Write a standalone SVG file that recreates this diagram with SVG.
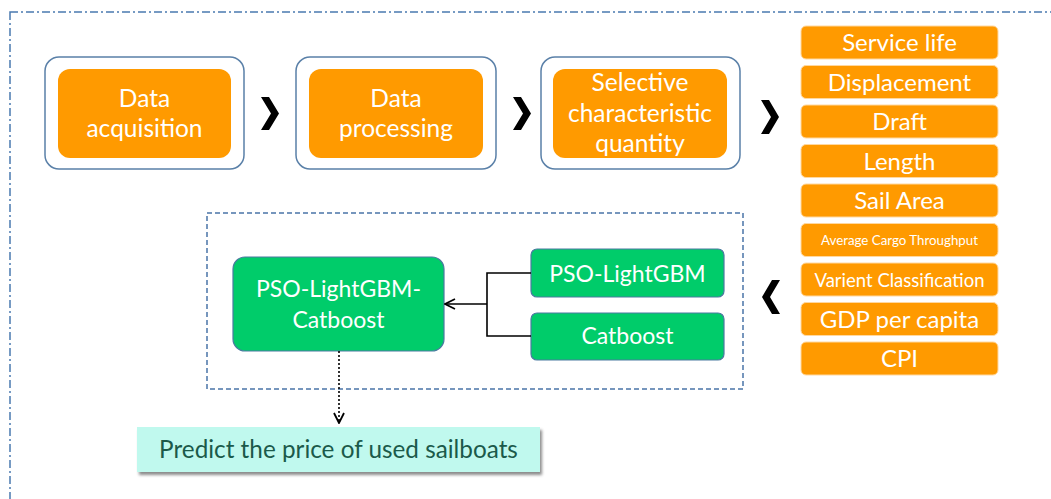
<svg xmlns="http://www.w3.org/2000/svg" width="1051" height="499" viewBox="0 0 1051 499">
<defs>
<style>
.frame{fill:none;stroke:#4a7ab0;stroke-width:1.5;stroke-dasharray:8 3 2 3}
.stage{fill:#fff;stroke:#5a80a8;stroke-width:1.5}
.org{fill:#ff9a00}
.feat{fill:#ff9a00;stroke:#ffd8a0;stroke-width:1}
.grn{fill:#00cc6a;stroke:#4a7aa0;stroke-width:1.2}
.wt{fill:#fff;font-family:Lato,"Open Sans",sans-serif;text-anchor:middle}
.chev{fill:#000}
.conn{fill:none;stroke:#000;stroke-width:1.6}
</style>
<marker id="open" viewBox="0 0 12 12" refX="11" refY="6" markerWidth="12" markerHeight="12" markerUnits="userSpaceOnUse" orient="auto">
<path d="M1,1 L11,6 L1,11" fill="none" stroke="#000" stroke-width="1.8"/>
</marker>
<filter id="sh" x="-5%" y="-20%" width="115%" height="150%">
<feDropShadow dx="2" dy="3" stdDeviation="1.5" flood-color="#000" flood-opacity="0.45"/>
</filter>
</defs>
<rect class="frame" x="10" y="12" width="1100" height="600"/>
<g id="stage1">
<rect class="stage" x="45" y="57" width="199" height="112" rx="14"/>
<rect class="org" x="58" y="69" width="173" height="89" rx="12"/>
<text class="wt" x="144.5" y="107" font-size="24.5">Data</text>
<text class="wt" x="144.5" y="137" font-size="24.5">acquisition</text>
</g>
<g id="stage2">
<rect class="stage" x="296" y="57" width="200" height="112" rx="14"/>
<rect class="org" x="309" y="69" width="174" height="89" rx="12"/>
<text class="wt" x="396" y="107" font-size="24.5">Data</text>
<text class="wt" x="396" y="137" font-size="24.5">processing</text>
</g>
<g id="stage3">
<rect class="stage" x="541" y="57" width="199" height="112" rx="14"/>
<rect class="org" x="553" y="69" width="174" height="89" rx="12"/>
<text class="wt" x="640" y="91" font-size="24.5">Selective</text>
<text class="wt" x="640" y="122" font-size="24.5">characteristic</text>
<text class="wt" x="640" y="152" font-size="24.5">quantity</text>
</g>
<g id="features">
<rect class="feat" x="801" y="26" width="197" height="33" rx="5"/>
<text class="wt" x="899.5" y="51" font-size="24">Service life</text>
<rect class="feat" x="801" y="65.5" width="197" height="33" rx="5"/>
<text class="wt" x="899.5" y="90.5" font-size="24">Displacement</text>
<rect class="feat" x="801" y="105" width="197" height="33" rx="5"/>
<text class="wt" x="899.5" y="130" font-size="24">Draft</text>
<rect class="feat" x="801" y="144.5" width="197" height="33" rx="5"/>
<text class="wt" x="899.5" y="169.5" font-size="24">Length</text>
<rect class="feat" x="801" y="184" width="197" height="33" rx="5"/>
<text class="wt" x="899.5" y="209" font-size="24">Sail Area</text>
<rect class="feat" x="801" y="223.5" width="197" height="33" rx="5"/>
<text class="wt" x="899.5" y="244.5" font-size="13.3">Average Cargo Throughput</text>
<rect class="feat" x="801" y="263" width="197" height="33" rx="5"/>
<text class="wt" x="899.5" y="286.5" font-size="18.5">Varient Classification</text>
<rect class="feat" x="801" y="302.5" width="197" height="33" rx="5"/>
<text class="wt" x="899.5" y="328" font-size="24">GDP per capita</text>
<rect class="feat" x="801" y="342" width="197" height="33" rx="5"/>
<text class="wt" x="899.5" y="367" font-size="24">CPI</text>
</g>
<g id="model-box">
<rect x="207" y="213" width="536" height="176" fill="none" stroke="#4a74a8" stroke-width="1.5" stroke-dasharray="5 3"/>
</g>
<g id="ensemble">
<rect class="grn" x="233" y="257" width="211" height="94" rx="12"/>
<text class="wt" x="338.5" y="297" font-size="23">PSO-LightGBM-</text>
<text class="wt" x="338.5" y="328" font-size="23">Catboost</text>
</g>
<g id="lightgbm">
<rect class="grn" x="531" y="249" width="193" height="48" rx="6"/>
<text class="wt" x="627.5" y="282" font-size="23">PSO-LightGBM</text>
</g>
<g id="catboost">
<rect class="grn" x="531" y="313" width="193" height="47" rx="6"/>
<text class="wt" x="627.5" y="344" font-size="23">Catboost</text>
</g>
<g id="predict">
<rect x="137" y="427" width="403" height="45" fill="#c0f9ee" filter="url(#sh)"/>
<text x="338.5" y="458" font-size="24.3" fill="#1b5a4a" font-family="Lato,'Open Sans',sans-serif" text-anchor="middle">Predict the price of used sailboats</text>
</g>
<g id="connectors">
<polygon class="chev" points="261,97 269,97 279,113.5 269,130 261,130 271,113.5"/>
<polygon class="chev" points="513,97 521,97 531,113.5 521,130 513,130 523,113.5"/>
<polygon class="chev" points="761,100 769,100 779,117 769,134 761,134 771,117"/>
<polygon class="chev" points="780,280 772,280 762,297 772,314 780,314 770,297"/>
<polyline class="conn" points="531,273 487,273 487,336 531,336"/>
<line class="conn" x1="487" y1="304" x2="445" y2="304" marker-end="url(#open)"/>
<line x1="339" y1="351" x2="339" y2="423" stroke="#000" stroke-width="1.6" stroke-dasharray="2 2" marker-end="url(#open)"/>
</g>
</svg>
